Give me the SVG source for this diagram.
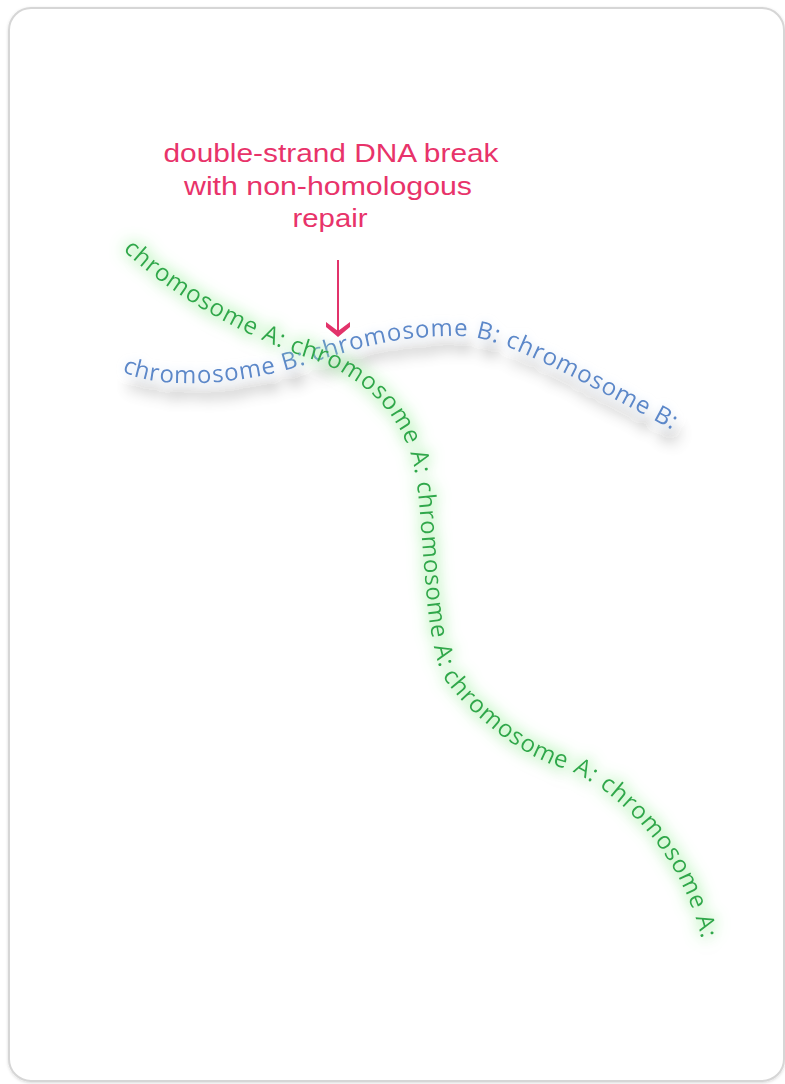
<svg xmlns="http://www.w3.org/2000/svg" xmlns:xlink="http://www.w3.org/1999/xlink" width="785" height="1084" viewBox="0 0 785 1084">
<style>
.label{font-family:"Liberation Sans",Arial,sans-serif;font-size:26px;fill:#e8336a;text-anchor:middle}
.chrA{font-family:"Open Sans","Noto Sans",sans-serif;font-size:24px;letter-spacing:0.9px;fill:#2ea84b}
.chrB{font-family:"Open Sans","Noto Sans",sans-serif;font-size:24px;letter-spacing:0.9px;fill:#5b88c9}
</style>
<defs>
<filter id="card" x="-5%" y="-5%" width="110%" height="110%">
<feDropShadow dx="0" dy="1" stdDeviation="1.5" flood-color="#000" flood-opacity="0.15"/>
</filter>
<filter id="glowA" filterUnits="userSpaceOnUse" x="0" y="150" width="785" height="900">
<feGaussianBlur in="SourceAlpha" stdDeviation="8" result="b"/>
<feComponentTransfer in="b" result="b2"><feFuncA type="linear" slope="3"/></feComponentTransfer>
<feFlood flood-color="#a6f2a6" flood-opacity="0.75"/>
<feComposite in2="b2" operator="in" result="g"/>
<feOffset in="SourceAlpha" dx="3" dy="12" result="o"/>
<feGaussianBlur in="o" stdDeviation="7" result="ob"/>
<feFlood flood-color="#000" flood-opacity="0.1"/>
<feComposite in2="ob" operator="in" result="s"/>
<feMerge><feMergeNode in="s"/><feMergeNode in="g"/><feMergeNode in="SourceGraphic"/></feMerge>
</filter>
<filter id="shadowB" filterUnits="userSpaceOnUse" x="0" y="250" width="785" height="300">
<feOffset in="SourceAlpha" dx="5" dy="16" result="o"/>
<feGaussianBlur in="o" stdDeviation="7" result="b"/>
<feComponentTransfer in="b" result="b2"><feFuncA type="linear" slope="2.5"/></feComponentTransfer>
<feFlood flood-color="#000" flood-opacity="0.22"/>
<feComposite in2="b2" operator="in" result="s"/>
<feGaussianBlur in="SourceAlpha" stdDeviation="4" result="h"/>
<feFlood flood-color="#d2e2f6" flood-opacity="0.8"/>
<feComposite in2="h" operator="in" result="hl"/>
<feMerge><feMergeNode in="s"/><feMergeNode in="hl"/><feMergeNode in="SourceGraphic"/></feMerge>
</filter>
<path id="pathA" d="M123,250 C165,290 230,330 305,357 C355,372 408,410 417,484 C425,550 424,640 445,680 C470,715 520,755 560,767 C600,779 682,840 704,950"/>
<path id="pathB" d="M122,371 C150,388 230,388 300,366 C370,344 400,336 460,336 C500,336 560,370 684,436"/>
</defs>
<g id="card-bg">
<rect x="9" y="8" width="775" height="1073" rx="22" ry="22" fill="#fff" stroke="#d6d6d6" stroke-width="2" filter="url(#card)"/>
</g>
<g id="chromosome-b" filter="url(#shadowB)">
<text class="chrB"><textPath xlink:href="#pathB" href="#pathB">chromosome B: chromosome B: chromosome B:</textPath></text>
</g>
<g id="chromosome-a" filter="url(#glowA)">
<text class="chrA"><textPath xlink:href="#pathA" href="#pathA">chromosome A: chromosome A: chromosome A: chromosome A: chromosome A:</textPath></text>
</g>
<g id="label">
<text class="label" x="331" y="162" textLength="335" lengthAdjust="spacingAndGlyphs">double-strand DNA break</text>
<text class="label" x="328" y="195" textLength="288" lengthAdjust="spacingAndGlyphs">with non-homologous</text>
<text class="label" x="330" y="227" textLength="75" lengthAdjust="spacingAndGlyphs">repair</text>
</g>
<g id="connectors">
<line x1="338" y1="260" x2="338" y2="332" stroke="#e2336b" stroke-width="2"/>
<polygon points="326,322 338,331 350,322 350,327 338,337 326,327" fill="#e2336b"/>
</g>
</svg>
